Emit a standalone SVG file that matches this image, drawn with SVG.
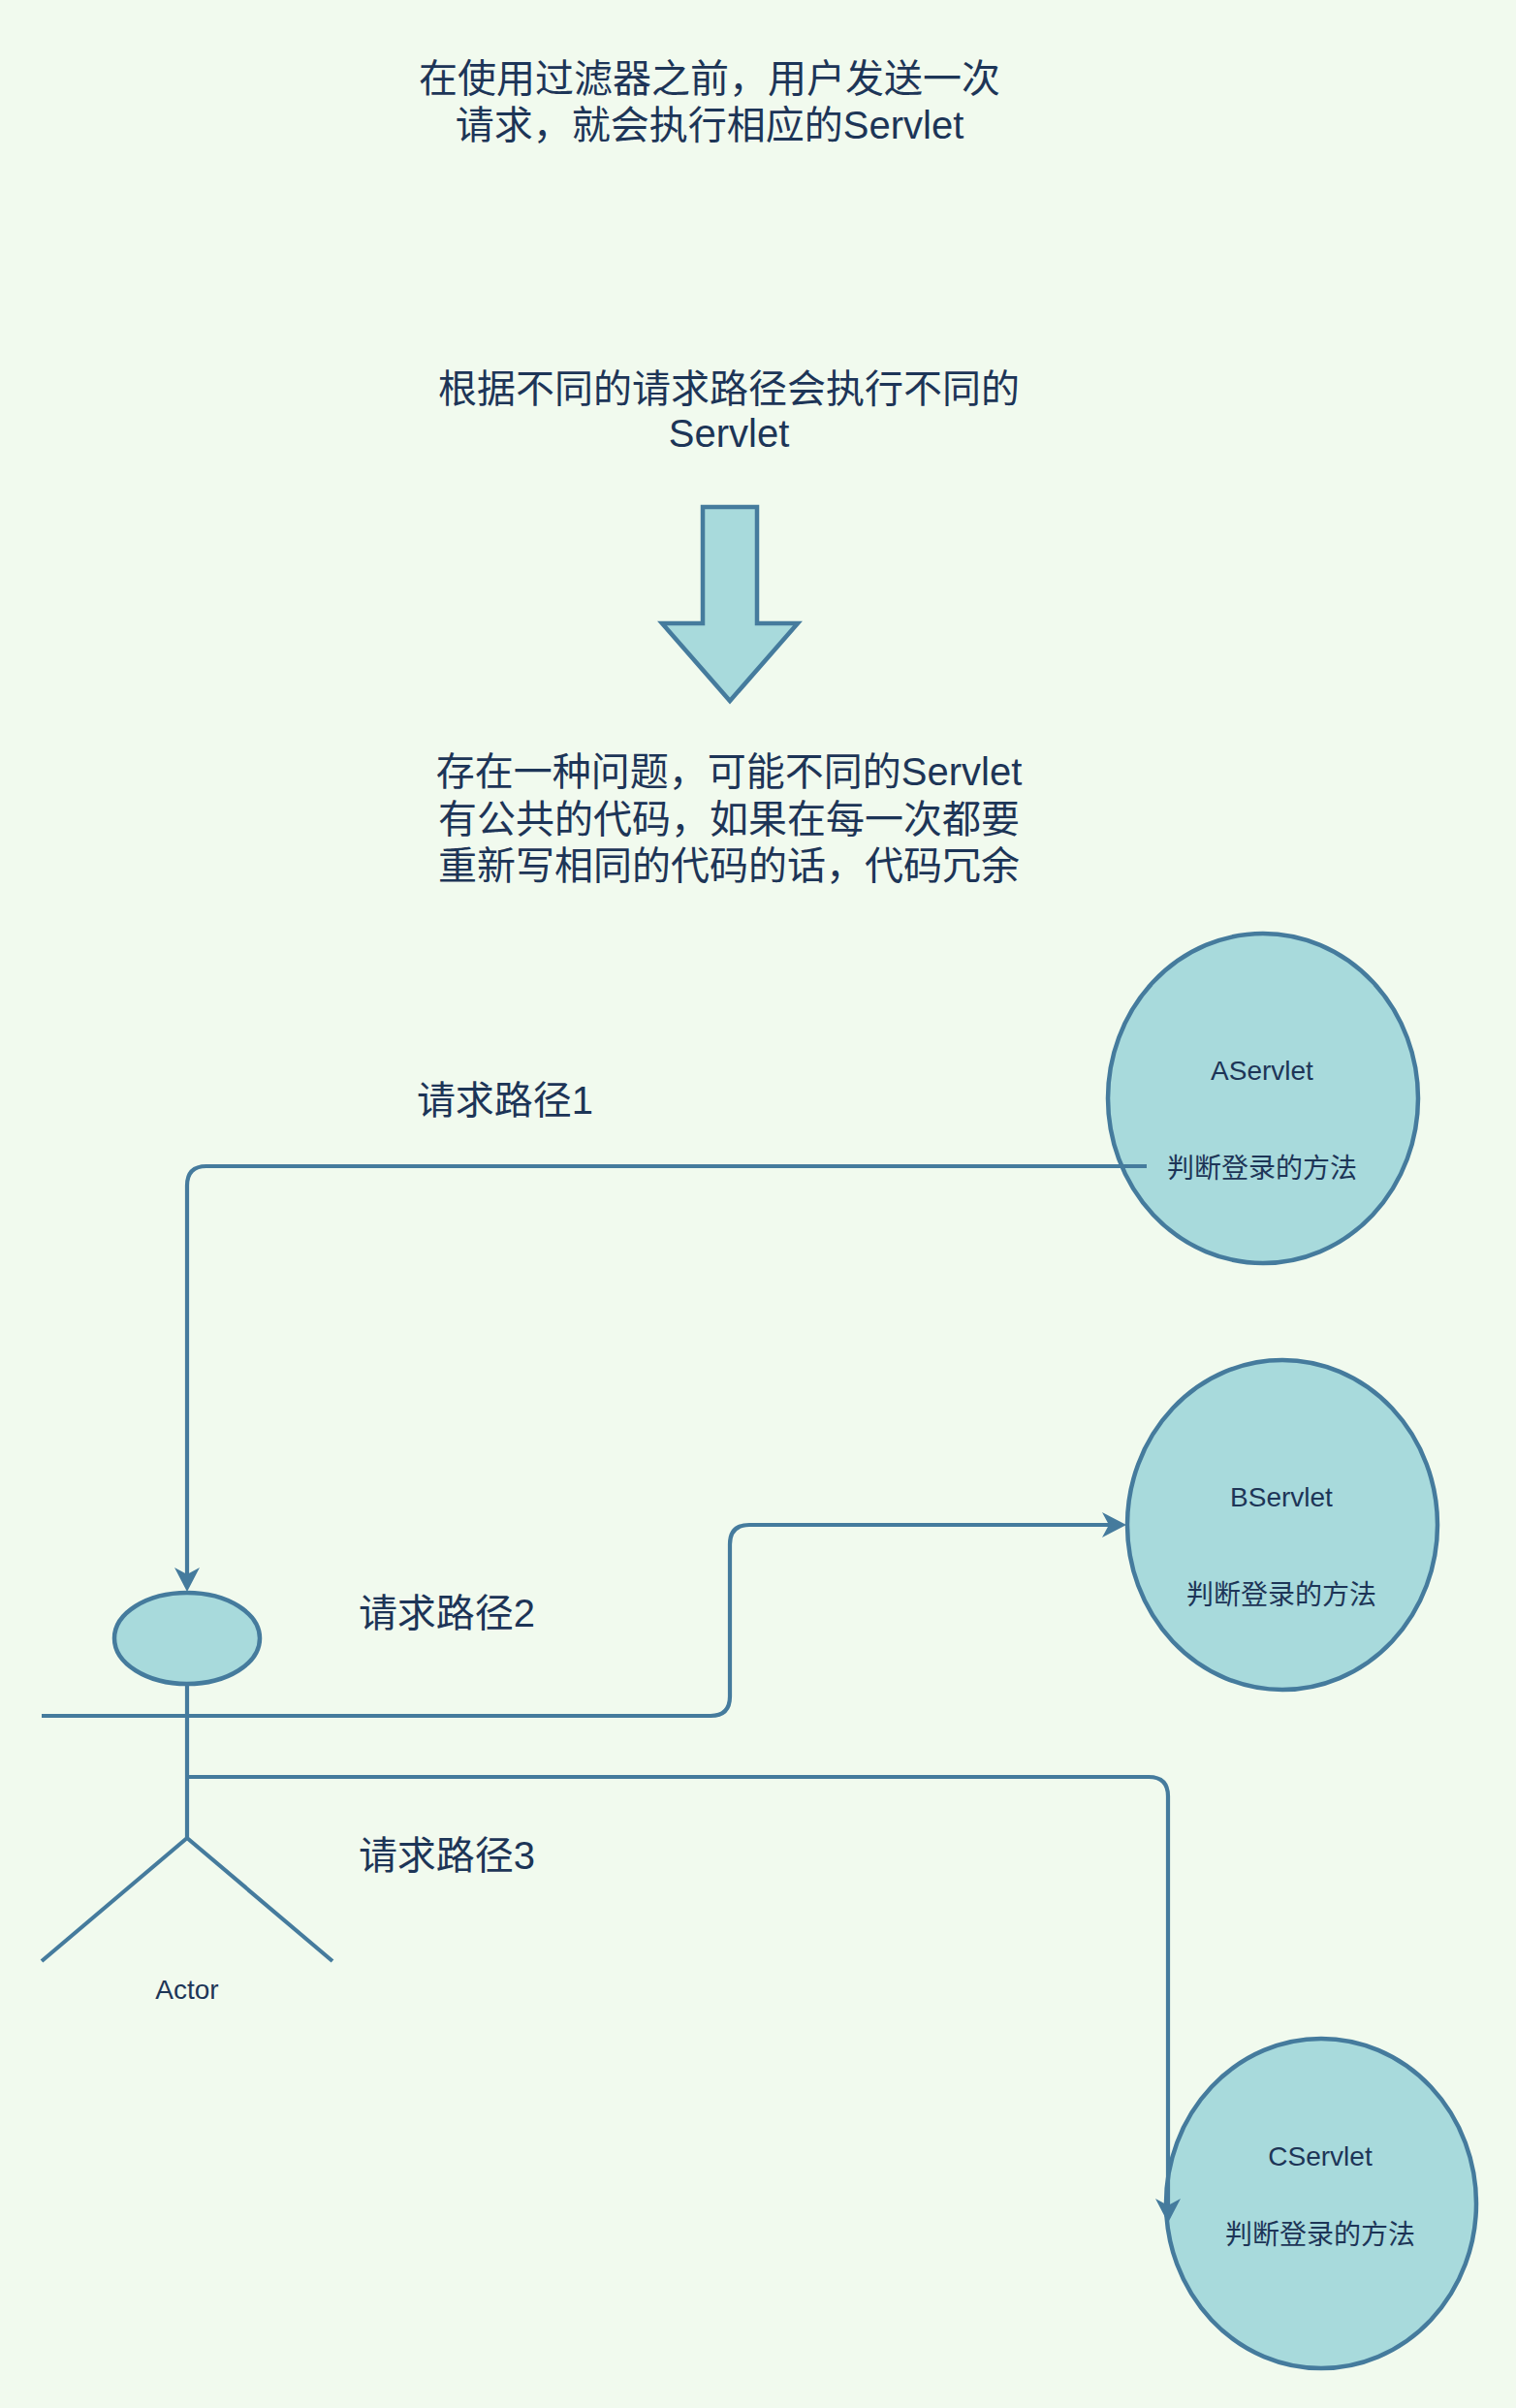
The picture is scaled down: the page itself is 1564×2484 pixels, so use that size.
<svg xmlns="http://www.w3.org/2000/svg" width="1564" height="2484" viewBox="0 0 1564 2484">
<style>
text{font-family:"Liberation Sans","Noto Sans CJK SC",sans-serif;fill:#1D3557;text-anchor:middle}
.big{font-size:40px}
.small{font-size:28px}
.shape{fill:#A8DADC;stroke:#457B9D;stroke-width:4.5}
.line{fill:none;stroke:#457B9D;stroke-width:4.2}
.edge{fill:none;stroke:#457B9D;stroke-width:4.2;marker-end:url(#arrow)}
</style>
<defs>
<marker id="arrow" markerUnits="userSpaceOnUse" markerWidth="30" markerHeight="30" viewBox="0 0 30 30" refX="8" refY="15" orient="auto" overflow="visible">
<path d="M1 2L26 15L1 28L8 15Z" fill="#457B9D"/>
</marker>
</defs>
<rect width="1564" height="2484" fill="#F1FAEE"/>
<g id="text-intro" class="big"><text x="732" y="95">在使用过滤器之前&#xFF0C;用户发送一次</text><text x="732" y="143">请求&#xFF0C;就会执行相应的Servlet</text></g>
<g id="text-paths" class="big"><text x="752" y="415">根据不同的请求路径会执行不同的</text><text x="752" y="461">Servlet</text></g>
<g id="down-arrow"><path class="shape" d="M725 523H781V643H823L753 723L683 643H725Z"/></g>
<g id="text-problem" class="big"><text x="752" y="810">存在一种问题&#xFF0C;可能不同的Servlet</text><text x="752" y="859">有公共的代码&#xFF0C;如果在每一次都要</text><text x="752" y="907">重新写相同的代码的话&#xFF0C;代码冗余</text></g>
<g id="label-1" class="big"><text x="521" y="1149">请求路径1</text></g>
<g id="label-2" class="big"><text x="461" y="1678">请求路径2</text></g>
<g id="label-3" class="big"><text x="461" y="1928">请求路径3</text></g>
<g id="aservlet"><ellipse class="shape" cx="1303" cy="1133" rx="160" ry="170"/><text class="small" x="1302" y="1114">AServlet</text><text class="small" x="1302" y="1215">判断登录的方法</text></g>
<g id="bservlet"><ellipse class="shape" cx="1323" cy="1573" rx="160" ry="170"/><text class="small" x="1322" y="1554">BServlet</text><text class="small" x="1322" y="1655">判断登录的方法</text></g>
<g id="cservlet"><ellipse class="shape" cx="1363" cy="2273" rx="160" ry="170"/><text class="small" x="1362" y="2234">CServlet</text><text class="small" x="1362" y="2315">判断登录的方法</text></g>
<g id="actor"><ellipse class="shape" cx="193" cy="1690" rx="75" ry="47"/><path class="line" d="M193 1738V1896M43 1770H343M193 1896L43 2023M193 1896L343 2023"/><text class="small" x="193" y="2062">Actor</text></g>
<g id="connectors">
<path class="edge" d="M343 1770H733Q753 1770 753 1750V1593Q753 1573 773 1573H1144"/>
<path class="edge" d="M1183 1203H213Q193 1203 193 1223V1624"/>
<path class="edge" d="M193 1833H1185Q1205 1833 1205 1853V2275"/>
</g>
</svg>
